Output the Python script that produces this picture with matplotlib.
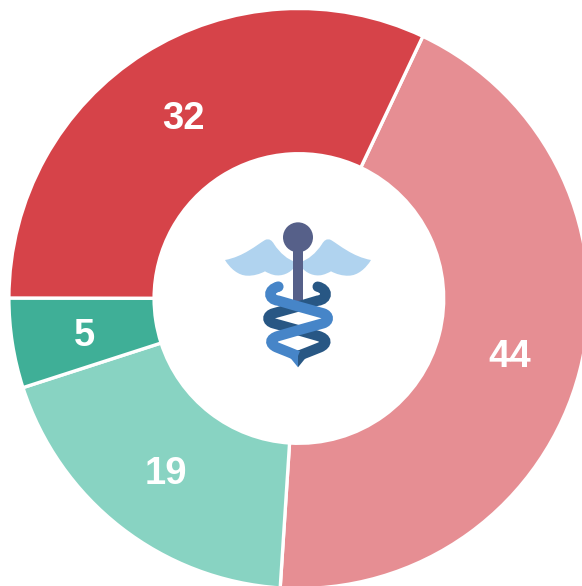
import matplotlib
matplotlib.use("Agg")
import matplotlib.pyplot as plt
from matplotlib.path import Path
from matplotlib.patches import PathPatch, Circle, Rectangle

values = [44, 19, 5, 32]
colors = ["#E68E93", "#88D3C2", "#3FAF97", "#D64349"]

W, H = 582, 586
fig = plt.figure(figsize=(W / 100, H / 100), dpi=100)
ax = fig.add_axes([8.9 / W, -2.5 / H, 580.0 / W, 580.0 / H])
_, _, pct_texts = ax.pie(values, colors=colors, startangle=64.7, counterclock=False, radius=1,
       wedgeprops=dict(width=0.5007, edgecolor="white", linewidth=2.4),
       autopct=lambda p: f"{p:.0f}", pctdistance=0.75,
       textprops=dict(color="white", fontweight="bold", fontsize=27.5,
                      family=["Liberation Sans", "DejaVu Sans"]))
for t in pct_texts:
    x, y = t.get_position()
    t.set_position((x + 0.002, y - 0.015))
ax.set_xlim(-1, 1)
ax.set_ylim(-1, 1)
ax.set_aspect("equal")
ax.axis("off")

# Icon, drawn in coordinates of the 3x crop of the central emblem
ic = fig.add_axes([0, 0, 1, 1], facecolor="none")
ic.set_xlim(0, W)
ic.set_ylim(H, 0)
ic.axis("off")


def z(x, y):
    return (210 + x / 3, 210 + y / 3)


def curve(points, kinds):
    return Path([z(*p) for p in points], kinds)


M, L, C4, CL = Path.MOVETO, Path.LINETO, Path.CURVE4, Path.CLOSEPOLY
WING = "#B0D3EF"
ROD = "#566089"
DARK = "#285784"
LIGHT = "#4685C8"


def wing(flip):
    f = (lambda x: 528 - x) if flip else (lambda x: x)
    pts = [(45, 150),
           (100, 140), (140, 105), (165, 90),
           (178, 84), (186, 92), (192, 102),
           (210, 130), (235, 150), (255, 155),
           (256, 160), (256, 165), (255, 170),
           (240, 190), (215, 200), (192, 195),
           (180, 192), (172, 188), (165, 184),
           (150, 192), (130, 198), (112, 197),
           (85, 197), (60, 175), (45, 150),
           (45, 150)]
    kinds = [M] + [C4] * 24 + [CL]
    return curve([(f(x), y) for x, y in pts], kinds)


for flip in (False, True):
    ic.add_patch(PathPatch(wing(flip), fc=WING, ec="none"))

ic.add_patch(Rectangle(z(248, 100), 32 / 3, 175 / 3, fc=ROD, ec="none", zorder=2))
ic.add_patch(Circle(z(264, 82), 15, fc=ROD, ec="none", zorder=2))

dark_pts = [(323, 230), (355, 238), (355, 268), (323, 272),
            (280, 285), (235, 298), (191, 310),
            (170, 316), (170, 334), (191, 340),
            (235, 352), (280, 365), (325, 378),
            (352, 386), (352, 402), (330, 412),
            (305, 422), (285, 430), (264, 438)]
light_pts = [(205, 230), (173, 238), (173, 268), (205, 272),
             (250, 285), (295, 298), (339, 310),
             (358, 316), (358, 334), (339, 340),
             (295, 352), (250, 365), (205, 378),
             (178, 386), (178, 402), (200, 412),
             (225, 422), (245, 430), (264, 438)]
kinds = [M] + [C4] * 18
lw = 31 / 3 * 0.72
ic.add_patch(PathPatch(curve(dark_pts, kinds), fc="none", ec=DARK, lw=lw,
                       capstyle="round", zorder=3))
ic.add_patch(PathPatch(Path([z(264, 420), z(264, 472), z(290, 440), z(264, 420)],
                            [M, L, L, CL]), fc=DARK, ec="none", zorder=3))
ic.add_patch(PathPatch(curve(light_pts, kinds), fc="none", ec=LIGHT, lw=lw,
                       capstyle="butt", zorder=4))
ic.add_patch(PathPatch(Path([z(264, 420), z(264, 472), z(238, 440), z(264, 420)],
                            [M, L, L, CL]), fc=LIGHT, ec="none", zorder=4))
ic.add_patch(Circle(z(205, 230), 5.2, fc=LIGHT, ec="none", zorder=4))

fig.savefig("out.png", dpi=100)
